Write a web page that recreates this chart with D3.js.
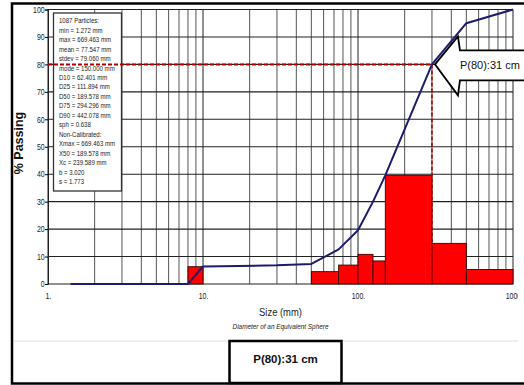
<!DOCTYPE html>
<html><head><meta charset="utf-8">
<script src="https://cdn.jsdelivr.net/npm/d3@7"></script>
<style>
html,body{margin:0;padding:0;background:#fff;}
svg{display:block;}
text{font-family:"Liberation Sans",Arial,sans-serif;}
</style></head>
<body>
<svg id="c" width="524" height="385"></svg>
<script>
// ---- data ----
const binLo  = [8, 50, 75, 100, 125, 150, 300, 500];
const binHi  = [10, 75, 100, 125, 150, 300, 500, 1000];
const binPct = [6.3, 4.5, 6.9, 10.8, 8.4, 39.6, 14.8, 5.3];

const cumSize = [1.4, 8, 10, 30, 50, 75, 100, 125, 150, 300, 500, 1000];
const cumPass = [0, 0, 6.4, 6.8, 7.3, 12.6, 19.6, 30, 39.6, 80, 95, 100];

const yTicks = [0,10,20,30,40,50,60,70,80,90,100];
const xTickVals = [1, 10, 100, 1000];
const xTickLabels = ["1.", "10.", "100.", "1000"];

const statsLines = [
 "1087 Particles:",
 "min = 1.272 mm",
 "max = 669.463 mm",
 "mean = 77.547 mm",
 "stdev = 79.060 mm",
 "mode = 150.000 mm",
 "D10 = 62.401 mm",
 "D25 = 111.894 mm",
 "D50 = 189.578 mm",
 "D75 = 294.296 mm",
 "D90 = 442.078 mm",
 "sph = 0.638",
 "Non-Calibrated:",
 "Xmax = 669.463 mm",
 "X50 = 189.578 mm",
 "Xc = 239.589 mm",
 "b = 3.020",
 "s = 1.773"
];
const p80Pass = 80, p80Size = 300;
const p80Label = "P(80):31 cm";

// ---- layout ----
const NARROW = 0.82;
const svg = d3.select("#c");
const x = d3.scaleLog().domain([1,1000]).range([48,513]);
const y = d3.scaleLinear().domain([0,100]).range([284,9.5]);

// outer frame
svg.append("rect").attr("x",12).attr("y",3.5).attr("width",600).attr("height",380)
  .attr("fill","none").attr("stroke","#000").attr("stroke-width",2.5);

// grid values
const gridX = [];
for (let d of [1,10,100]) for (let k=1;k<=9;k++) gridX.push(d*k);
gridX.push(1000);

const g = svg.append("g");
g.selectAll("line.vx").data(gridX).join("line")
  .attr("x1",d=>x(d)).attr("x2",d=>x(d)).attr("y1",y(100)).attr("y2",y(0))
  .attr("stroke",d=> [1,10,100,1000].includes(d)?"#222":"#555").attr("stroke-width",1);
g.selectAll("line.hy").data(yTicks).join("line")
  .attr("x1",x(1)).attr("x2",x(1000)).attr("y1",d=>y(d)).attr("y2",d=>y(d))
  .attr("stroke","#222").attr("stroke-width",1.1);

// y axis
const yAxis = d3.axisLeft(y).tickValues(yTicks).tickSize(3).tickPadding(1);
const ya = svg.append("g").attr("transform",`translate(${x(1)},0)`).call(yAxis);
ya.select(".domain").attr("stroke","#222");
ya.selectAll("text").attr("font-family","Liberation Sans").attr("font-size",8.5).attr("fill","#222")
  .attr("transform",`scale(${NARROW},1)`);

// x axis labels
const xAxis = d3.axisBottom(x).tickValues(xTickVals).tickFormat((d,i)=>xTickLabels[i]).tickSize(0).tickPadding(9);
const xa = svg.append("g").attr("transform",`translate(0,${y(0)})`).call(xAxis);
xa.select(".domain").remove();
xa.selectAll("text").attr("font-family","Liberation Sans").attr("font-size",8.5).attr("fill","#222")
  .attr("transform",`scale(${NARROW},1)`);
svg.append("clipPath").attr("id","clipR").append("rect").attr("x",0).attr("y",0).attr("width",518).attr("height",385);
xa.attr("clip-path","url(#clipR)");

// bars
svg.append("g").selectAll("rect").data(binPct).join("rect")
  .attr("x",(d,i)=>x(binLo[i])).attr("width",(d,i)=>x(binHi[i])-x(binLo[i]))
  .attr("y",d=>y(d)).attr("height",d=>y(0)-y(d))
  .attr("fill","#ff0000").attr("stroke","#3a0000").attr("stroke-width",0.9);

// cumulative curve
const line = d3.line().x((d,i)=>x(cumSize[i])).y(d=>y(d));
svg.append("path").datum(cumPass).attr("d",line)
  .attr("fill","none").attr("stroke","#1c1c6e").attr("stroke-width",2).attr("stroke-linejoin","round");

// stats box
svg.append("rect").attr("x",53.5).attr("y",13).attr("width",68).attr("height",178)
  .attr("fill","#fff").attr("stroke","#333").attr("stroke-width",1.3);
svg.append("g").selectAll("text").data(statsLines).join("text")
  .attr("transform",(d,i)=>`translate(59,${23.2+i*9.47}) scale(${NARROW},1)`)
  .attr("font-size",7.4).attr("fill","#222").text(d=>d);

// P80 dashed lines
svg.append("line").attr("x1",x(1)).attr("x2",x(p80Size)).attr("y1",y(p80Pass)).attr("y2",y(p80Pass))
  .attr("stroke","#b00000").attr("stroke-width",2).attr("stroke-dasharray","4,2");
svg.append("line").attr("x1",x(p80Size)).attr("x2",x(p80Size)).attr("y1",y(p80Pass)).attr("y2",y(0))
  .attr("stroke","#b00000").attr("stroke-width",1.6).attr("stroke-dasharray","4,2");

// arrow annotation
const tx = x(p80Size)+3, ty = y(p80Pass);
const arrowPts = [[tx,ty],[tx+23,ty-28],[tx+25,ty-14],[560,ty-14],[560,ty+16],[tx+25,ty+16],[tx+23,ty+31]];
svg.append("polygon").attr("points",arrowPts.map(p=>p.join(",")).join(" "))
  .attr("fill","#fff").attr("stroke","#000").attr("stroke-width",1.8).attr("stroke-linejoin","miter");
svg.append("text").attr("x",tx+25).attr("y",ty+4.5)
  .attr("font-size",11).attr("fill","#111").text(p80Label);

// axis titles
svg.append("text").attr("transform",`translate(23,143) rotate(-90)`).attr("text-anchor","middle")
  .attr("font-weight","bold").attr("font-size",12.5)
  .attr("fill","#111").text("% Passing");
const cx = x(Math.sqrt(1000));
svg.append("text").attr("transform",`translate(${cx},316) scale(${NARROW},1)`).attr("text-anchor","middle")
  .attr("font-size",11.5).attr("fill","#222").text("Size (mm)");
svg.append("text").attr("transform",`translate(${cx},329) scale(${NARROW},1)`).attr("text-anchor","middle")
  .attr("font-size",7.8).attr("font-style","italic").attr("fill","#222").text("Diameter of an Equivalent Sphere");

// separator + bottom box
svg.append("line").attr("x1",14).attr("x2",518).attr("y1",341).attr("y2",341).attr("stroke","#ddd").attr("stroke-width",1);
svg.append("rect").attr("x",229.5).attr("y",341).attr("width",112).attr("height",42)
  .attr("fill","#fff").attr("stroke","#000").attr("stroke-width",2.5);
svg.append("text").attr("x",285.5).attr("y",362.5).attr("text-anchor","middle")
  .attr("font-weight","bold").attr("font-size",11.5)
  .attr("fill","#111").text(p80Label);
</script>
</body></html>
